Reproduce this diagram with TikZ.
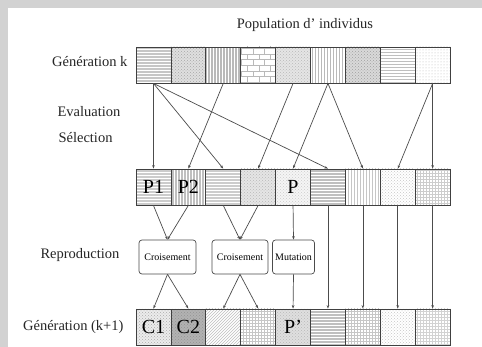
\documentclass[tikz,border=0pt]{standalone}
\usepackage{fontspec}
\setmainfont{Liberation Serif}
\usetikzlibrary{patterns,arrows.meta}
\tikzset{
  cell/.style={draw=black!75, line width=0.8pt, minimum width=34.9pt, minimum height=36pt, inner sep=0pt, font=\fontsize{20}{22}\selectfont},
  opbox/.style={draw=black!70, line width=0.7pt, rounded corners=3pt, minimum height=34pt, inner sep=0pt, font=\fontsize{10}{11}\selectfont},
  lbl/.style={font=\fontsize{14.5}{17}\selectfont, text=black!85},
  arr/.style={-{Stealth[length=3.5pt,width=2.6pt]}, draw=black!70, line width=0.7pt}
}
\begin{document}
\begin{tikzpicture}[x=1pt,y=-1pt]
\useasboundingbox (0,0) rectangle (482,347);
\fill[gray!35] (0,0) rectangle (482,347);
\fill[white] (8,8) rectangle (482,347);
\node[lbl] (titre) at (305,25) {Population d' individus};
\node[lbl, anchor=east] (genk) at (131,62) {Génération k};
\node[lbl, anchor=west] (eval) at (54,112) {Evaluation};
\node[lbl, anchor=west] (sel) at (55,138) {Sélection};
\node[lbl] (repro) at (80,255) {Reproduction};
\node[lbl, anchor=east] (genk1) at (127,327) {Génération (k+1)};
% generation k
\foreach \i/\bg/\pat/\pc in {1/gray!45/horizontal lines/white, 2/gray!25/crosshatch dots/gray!70, 3/gray!55/vertical lines/white,
  4/white/bricks/gray!55, 5/gray!20/crosshatch dots/gray!55, 6/white/vertical lines/gray!55,
  7/gray!30/crosshatch dots/gray!75, 8/white/horizontal lines/gray!50, 9/white/dots/gray!55}
  \node[cell, preaction={fill=\bg}, pattern=\pat, pattern color=\pc] (t\i) at ({136+34.9*(\i-0.5)},65) {};
% selection
\foreach \i/\bg/\pat/\pc/\txt in {1/gray!40/horizontal lines/white/P1, 2/gray!50/vertical lines/white/P2,
  3/gray!40/horizontal lines/white/{}, 4/gray!20/crosshatch dots/gray!55/{}, 5/gray!8/crosshatch dots/gray!40/P,
  6/gray!50/horizontal lines/white/{}, 7/white/vertical lines/gray!45/{}, 8/white/crosshatch dots/gray!45/{},
  9/white/grid/gray!40/{}}
  \node[cell, preaction={fill=\bg}, pattern=\pat, pattern color=\pc] (m\i) at ({136+34.9*(\i-0.5)},187) {\txt};
% generation k+1
\foreach \i/\bg/\pat/\pc/\txt in {1/gray!15/crosshatch dots/gray!65/C1, 2/gray!60/crosshatch dots/gray!85/C2,
  3/white/north east lines/gray!50/{}, 4/white/grid/gray!45/{}, 5/gray!25/crosshatch dots/gray!55/P',
  6/gray!50/horizontal lines/white/{}, 7/white/grid/gray!45/{}, 8/white/crosshatch dots/gray!45/{},
  9/white/grid/gray!35/{}}
  \node[cell, preaction={fill=\bg}, pattern=\pat, pattern color=\pc] (b\i) at ({136+34.9*(\i-0.5)},327) {\txt};
\node[opbox, minimum width=57pt] (cr1) at (167.5,257) {Croisement};
\node[opbox, minimum width=56pt] (cr2) at (240,257) {Croisement};
\node[opbox, minimum width=42pt] (mu) at (293.5,257) {Mutation};
\foreach \a/\b in {1/1, 1/3, 1/6, 3/2, 5/4, 6/5, 6/7, 9/8, 9/9} % selection
  \draw[arr] (t\a.south) -- (m\b.north);
\foreach \a/\b in {1/cr1, 2/cr1, 3/cr2, 4/cr2, 5/mu}
  \draw[arr] (m\a.south) -- (\b.north);
\foreach \a in {6,...,9}
  \draw[arr] (m\a.south) -- (b\a.north);
\foreach \a/\b in {cr1/1, cr1/2, cr2/3, cr2/4, mu/5}
  \draw[arr] (\a.south) -- (b\b.north);
\end{tikzpicture}
\end{document}
